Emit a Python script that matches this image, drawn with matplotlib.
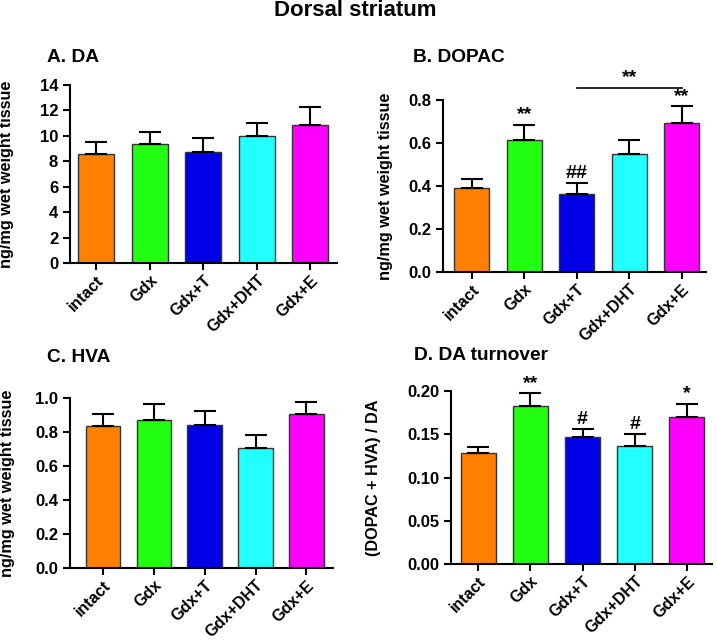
import numpy as np
import matplotlib
matplotlib.use('Agg')
import matplotlib.pyplot as plt

plt.rcParams['font.family'] = ['Liberation Sans', 'DejaVu Sans']
plt.rcParams['font.weight'] = 'bold'

# data
groups = ['intact', 'Gdx', 'Gdx+T', 'Gdx+DHT', 'Gdx+E']
colors = ['#ff8000', '#22ff11', '#0000e6', '#22ffff', '#ff00ff']

da_mean = [8.56, 9.33, 8.70, 9.96, 10.87]
da_err = [0.93, 0.94, 1.10, 1.02, 1.40]

dopac_mean = [0.389, 0.615, 0.362, 0.550, 0.691]
dopac_err = [0.043, 0.069, 0.051, 0.064, 0.081]

hva_mean = [0.833, 0.871, 0.839, 0.704, 0.908]
hva_err = [0.073, 0.094, 0.085, 0.076, 0.070]

turn_mean = [0.1284, 0.1830, 0.1469, 0.1369, 0.1703]
turn_err = [0.0070, 0.0147, 0.0089, 0.0131, 0.0150]

dopac_marks = ['', '**', '##', '', '**']
turn_marks = ['', '**', '#', '#', '*']

W, H = 717, 641
fig = plt.figure(figsize=(W / 100, H / 100), dpi=100)

TICK_FS = 12
XTICK_FS = 11.6
LAB_FS = 11.7


def px_axes(left, right, top, bottom):
    return fig.add_axes([left / W, 1 - bottom / H, (right - left) / W, (bottom - top) / H])


def bar_panel(ax, mean, err, ylim, yticks, fmt, xlim, ylabel, lab_x):
    x = np.arange(len(groups))
    ax.bar(x, mean, width=0.67, color=colors, edgecolor='#333333', linewidth=1.0, zorder=2)
    ax.errorbar(x, mean, yerr=[np.zeros(len(err)), err], fmt='none', ecolor='black',
                elinewidth=1.5, capsize=8, capthick=1.5, zorder=3)
    ax.set_xlim(*xlim)
    ax.set_ylim(*ylim)
    ax.set_yticks(yticks)
    ax.set_yticklabels([fmt.format(t) for t in yticks], fontsize=TICK_FS, fontweight='bold')
    ax.set_xticks(x)
    ax.set_xticklabels(groups, rotation=45, ha='right', va='top', rotation_mode='anchor',
                       fontsize=XTICK_FS, fontweight='bold')
    ax.spines['top'].set_visible(False)
    ax.spines['right'].set_visible(False)
    ax.spines['left'].set_linewidth(1.5)
    ax.spines['bottom'].set_linewidth(1.5)
    ax.tick_params(axis='both', direction='out', length=5, width=1.5)
    ax.tick_params(axis='x', pad=2)
    ax.set_ylabel(ylabel, fontsize=LAB_FS, fontweight='bold')
    ax.yaxis.set_label_coords(lab_x, 0.5)
    return x


def marks(ax, x, mean, err, labels):
    for xi, m, e, s in zip(x, mean, err, labels):
        if s:
            ax.annotate(s, (xi, m + e), xytext=(0, 1), textcoords='offset points',
                        ha='center', va='bottom', fontsize=14, fontweight='bold',
                        annotation_clip=False)


fig.text(355 / W, 1 - 11 / H, 'Dorsal striatum', ha='center', va='center',
         fontsize=16, fontweight='bold')
fig.text(47 / W, 1 - 58 / H, 'A. DA', ha='left', va='center', fontsize=13.8, fontweight='bold')
fig.text(413 / W, 1 - 58 / H, 'B. DOPAC', ha='left', va='center', fontsize=13.8, fontweight='bold')
fig.text(47 / W, 1 - 357 / H, 'C. HVA', ha='left', va='center', fontsize=13.8, fontweight='bold')
fig.text(414 / W, 1 - 355 / H, 'D. DA turnover', ha='left', va='center', fontsize=13.8,
         fontweight='bold')

# A. DA
axA = px_axes(70, 337, 85, 263)
bar_panel(axA, da_mean, da_err, (0, 14), [0, 2, 4, 6, 8, 10, 12, 14], '{:.0f}',
          (-0.49, 4.5), 'ng/mg wet weight tissue', -0.21)

# B. DOPAC
axB = px_axes(443, 706, 100, 272)
xB = bar_panel(axB, dopac_mean, dopac_err, (0, 0.8), [0, 0.2, 0.4, 0.6, 0.8], '{:.1f}',
               (-0.55, 4.46), 'ng/mg wet weight tissue', -0.19)
marks(axB, xB, dopac_mean, dopac_err, dopac_marks)
axB.plot([2, 4], [0.855, 0.855], color='black', lw=1.2, clip_on=False)
axB.text(3, 0.865, '**', ha='center', va='bottom', fontsize=14, fontweight='bold', clip_on=False)

# C. HVA
axC = px_axes(70, 333, 398, 568)
bar_panel(axC, hva_mean, hva_err, (0, 1.0), [0, 0.2, 0.4, 0.6, 0.8, 1.0], '{:.1f}',
          (-0.64, 4.52), 'ng/mg wet weight tissue', -0.21)

# D. DA turnover
axD = px_axes(451, 712, 391, 564)
xD = bar_panel(axD, turn_mean, turn_err, (0, 0.2), [0, 0.05, 0.10, 0.15, 0.20], '{:.2f}',
               (-0.52, 4.48), '(DOPAC + HVA) / DA', -0.27)
marks(axD, xD, turn_mean, turn_err, turn_marks)

fig.savefig('out.png', dpi=100, facecolor='white')
